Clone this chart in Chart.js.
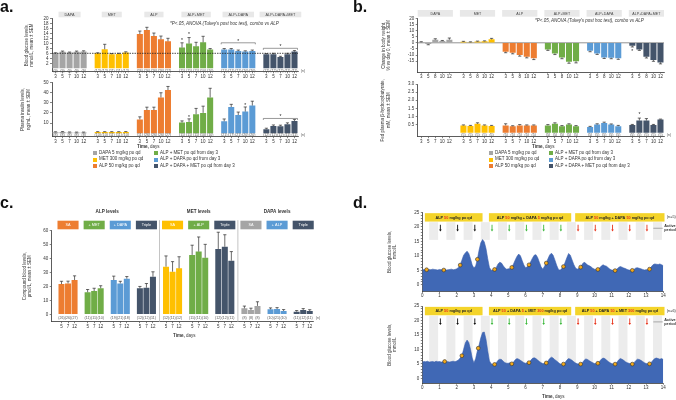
<!DOCTYPE html>
<html>
<head>
<meta charset="utf-8">
<script src="https://cdn.jsdelivr.net/npm/chart.js@4.4.1/dist/chart.umd.min.js"></script>
<style>
  body { margin: 0; width: 676px; height: 400px; position: relative; overflow: hidden; background: #fff;
         font-family: 'Liberation Sans', Arial, sans-serif; color: #333; }
  canvas { position: absolute; }
  .t { position: absolute; white-space: nowrap; line-height: 1; }
  .big { font-size: 16px; font-weight: bold; color: #111; }
  .sm { font-size: 4.5px; }
  .sw { position: absolute; width: 4px; height: 4px; }
</style>
</head>
<body>
<canvas id="a1" width="315" height="80" style="left:0px;top:0px"></canvas>
<canvas id="a2" width="315" height="68" style="left:0px;top:78px"></canvas>
<canvas id="b1" width="336" height="80" style="left:340px;top:0px"></canvas>
<canvas id="b2" width="336" height="68" style="left:340px;top:78px"></canvas>
<canvas id="c1" width="330" height="142" style="left:0px;top:198px"></canvas>
<canvas id="d1" width="336" height="95" style="left:340px;top:205px"></canvas>
<canvas id="d2" width="336" height="102" style="left:340px;top:298px"></canvas>

<div class="t big" style="left:0;top:-1px">a.</div>
<div class="t big" style="left:353px;top:-1px">b.</div>
<div class="t big" style="left:0;top:195px">c.</div>
<div class="t big" style="left:353px;top:195px">d.</div>

<div class="t sm" style="left:170px;top:22px;font-style:italic">*P&lt;.05, ANOVA (Tukey's post hoc test), combo vs ALP</div>
<div class="t sm" style="left:535px;top:19px;font-style:italic">*P&lt;.05, ANOVA (Tukey's post hoc test), combo vs ALP</div>

<div class="t sm" style="left:137px;top:144.5px"><b>Time,</b> days</div>
<div class="t sm" style="left:532px;top:145px"><b>Time,</b> days</div>
<div class="t sm" style="left:173px;top:333.5px"><b>Time,</b> days</div>
<div class="t sm" style="left:542px;top:395px"><b>Time,</b> days</div>

<div id="legA"></div>
<div id="legB"></div>

<script>
// ---- panel a / b: group names, days ----
const comboGroups = ['DAPA', 'MET', 'ALP', 'ALP+MET', 'ALP+DAPA', 'ALP+DAPA+MET'];
const comboColors = ['#a5a5a5', '#ffc000', '#ed7d31', '#70ad47', '#5b9bd5', '#44546a'];
const daysA = ['3', '5', '7', '10', '12'];
const daysWeight = ['3', '5', '8', '10', '12'];

// a: blood glucose, mmol/L
const glucose = [
  [6.0, 6.6, 6.3, 6.6, 6.7],
  [6.0, 7.6, 5.6, 5.7, 6.3],
  [13.7, 15.3, 12.9, 11.6, 10.8],
  [8.3, 9.9, 8.8, 10.4, 7.5],
  [7.5, 7.5, 6.9, 6.7, 6.9],
  [5.6, 5.6, 4.5, 5.6, 6.7]
];
const glucoseErr = [
  [0.2, 0.3, 0.2, 0.3, 0.3],
  [0.2, 2.0, 0.3, 0.3, 0.3],
  [1.2, 1.1, 1.2, 1.3, 1.2],
  [1.9, 2.4, 1.6, 2.4, 0.4],
  [0.4, 0.4, 0.4, 0.3, 0.4],
  [0.3, 0.4, 0.3, 0.4, 0.4]
];
const glucoseN = [
  ['(9)', '(9)', '(9)', '(9)', '(9)'],
  ['(12)', '(12)', '(11)', '(11)', '(12)'],
  ['(26)', '(26)', '(26)', '(26)', '(27)'],
  ['(11)', '(11)', '(11)', '(10)', '(10)'],
  ['(21)', '(21)', '(21)', '(20)', '(20)'],
  ['(12)', '(12)', '(12)', '(11)', '(11)']
];

// a: plasma insulin, ng/mL
const insulin = [
  [1.0, 1.2, 0.9, 0.8, 0.8],
  [1.2, 1.2, 1.2, 1.2, 1.3],
  [13.7, 22.9, 22.9, 35.3, 42.6],
  [10.6, 11.2, 18.8, 20.1, 35.3],
  [11.8, 25.9, 18.0, 21.4, 27.3],
  [4.0, 7.3, 7.0, 9.0, 12.2]
];
const insulinErr = [
  [0.5, 0.5, 0.4, 0.4, 0.4],
  [0.4, 0.4, 0.4, 0.4, 0.4],
  [2.5, 2.8, 2.8, 4.6, 3.5],
  [1.6, 3.0, 5.7, 6.6, 9.0],
  [2.3, 2.6, 2.9, 4.5, 4.3],
  [1.0, 0.9, 1.0, 1.3, 1.3]
];
const insulinN = [
  ['(8)', '(8)', '(8)', '(8)', '(8)'],
  ['(10)', '(10)', '(11)', '(11)', '(10)'],
  ['(11)', '(26)', '(26)', '(26)', '(27)'],
  ['(11)', '(11)', '(11)', '(10)', '(10)'],
  ['(21)', '(17)', '(21)', '(20)', '(20)'],
  ['(12)', '(12)', '(12)', '(11)', '(11)']
];

// b: change in body weight, %
const weight = [
  [0.5, -1.0, 2.5, 1.5, 2.5],
  [0.8, 0.5, 1.0, 1.2, 2.8],
  [-7.3, -8.2, -10.0, -11.4, -12.7],
  [-5.4, -8.7, -12.0, -15.5, -15.0],
  [-6.5, -8.7, -12.0, -12.2, -12.7],
  [-2.4, -5.4, -11.4, -14.1, -16.0]
];
const weightErr = [
  [0.4, 0.6, 0.8, 0.4, 1.4],
  [0.4, 0.3, 0.4, 0.4, 0.8],
  [0.8, 0.8, 0.9, 0.9, 1.0],
  [0.8, 0.9, 1.0, 1.2, 1.4],
  [0.8, 0.8, 0.8, 0.8, 0.8],
  [1.0, 0.8, 1.0, 1.0, 1.2]
];

// b: fed plasma beta-hydroxybutyrate, mM
const bhb = [
  [null, null, null, null, null],
  [0.45, 0.42, 0.55, 0.45, 0.42],
  [0.45, 0.40, 0.45, 0.45, 0.45],
  [0.45, 0.55, 0.40, 0.50, 0.40],
  [0.35, 0.50, 0.60, 0.50, 0.40],
  [0.47, 0.75, 0.75, 0.47, 0.82]
];
const bhbErr = [
  [0, 0, 0, 0, 0],
  [0.03, 0.03, 0.06, 0.03, 0.03],
  [0.10, 0.03, 0.05, 0.03, 0.03],
  [0.05, 0.06, 0.04, 0.05, 0.04],
  [0.04, 0.05, 0.05, 0.04, 0.05],
  [0.04, 0.15, 0.12, 0.04, 0.02]
];
const bhbN = [
  ['', '', '', '', ''],
  ['(5)', '(5)', '(5)', '(5)', '(5)'],
  ['(5)', '(5)', '(5)', '(5)', '(5)'],
  ['(5)', '(5)', '(5)', '(5)', '(5)'],
  ['(5)', '(5)', '(5)', '(5)', '(5)'],
  ['(5)', '(5)', '(5)', '(5)', '(5)']
];

// c: compound blood levels, umol/L
const levelGroups = ['SA', '+ MET', '+ DAPA', 'Triple', 'SA', '+ ALP', 'Triple', 'SA', '+ ALP', 'Triple'];
const levelColors = ['#ed7d31', '#70ad47', '#5b9bd5', '#44546a', '#ffc000', '#70ad47', '#44546a', '#a5a5a5', '#5b9bd5', '#44546a'];
const levelSections = ['ALP levels', 'MET levels', 'DAPA levels'];
const daysC = ['5', '7', '12'];
const levels = [
  [21.7, 22.2, 24.6], [15.8, 16.7, 18.7], [24.6, 22.2, 25.6], [18.7, 19.1, 27.0],
  [34.2, 30.6, 33.0], [42.6, 45.0, 40.6], [46.9, 48.5, 38.5],
  [4.3, 3.1, 6.0], [3.6, 3.8, 2.4], [1.9, 3.1, 2.4]
];
const levelsErr = [
  [2.0, 1.6, 3.0], [2.0, 2.0, 1.8], [2.8, 1.5, 1.5], [1.3, 3.0, 3.5],
  [7.7, 7.2, 8.3], [7.0, 10.5, 9.6], [12.0, 8.6, 6.5],
  [1.6, 1.3, 3.0], [1.0, 1.0, 1.0], [0.8, 1.0, 0.9]
];
const levelsN = [
  ['(26)', '(26)', '(27)'], ['(11)', '(11)', '(10)'], ['(19)', '(21)', '(18)'], ['(12)', '(12)', '(11)'],
  ['(12)', '(11)', '(12)'], ['(11)', '(11)', '(10)'], ['(12)', '(12)', '(11)'],
  ['(8)', '(8)', '(8)'], ['(10)', '(21)', '(10)'], ['(11)', '(12)', '(11)']
];

// d: continuous blood glucose (mmol/L), one reading every 0.1 day from day 0 to 14
const cgmTop = [
  5.3, 5.2, 5.4, 5.1, 5.3, 5.2, 5.4, 5.3, 5.2, 5.1,
  5.3, 5.2, 5.4, 5.3, 5.1, 5.2, 5.3, 5.4, 5.2, 5.3,
  5.5, 6.0, 6.8, 8.5, 10.2, 11.0, 11.6, 10.8, 9.0, 6.8,
  5.8, 6.5, 8.8, 12.0, 14.5, 15.6, 14.8, 12.5, 9.0, 6.0,
  5.0, 5.1, 5.3, 6.0, 7.2, 7.8, 7.5, 6.6, 5.8, 5.4,
  5.5, 5.6, 6.0, 7.2, 8.6, 9.8, 10.6, 10.0, 8.4, 6.8,
  5.9, 6.2, 6.9, 8.0, 9.2, 10.2, 10.4, 9.4, 7.8, 6.2,
  5.4, 6.4, 7.5, 9.0, 10.3, 10.9, 10.2, 8.6, 6.8, 5.4,
  5.0, 5.6, 6.3, 7.8, 9.4, 10.8, 10.2, 8.6, 7.0, 5.8,
  5.4, 5.7, 6.1, 7.2, 7.8, 7.4, 6.8, 6.6, 6.2, 5.7,
  5.4, 5.3, 5.3, 5.8, 6.5, 6.9, 6.6, 6.4, 5.9, 5.4,
  5.1, 5.0, 4.9, 5.4, 6.0, 6.3, 6.1, 5.8, 5.6, 5.3,
  5.1, 5.0, 5.0, 5.3, 5.8, 5.9, 5.7, 5.5, 5.3, 5.1,
  5.2, 5.3, 5.4, 6.2, 6.9, 7.2, 7.1, 7.0, 7.2, 6.9,
  6.6
];
const cgmBottom = [
  5.6, 5.8, 5.7, 5.9, 5.6, 5.7, 5.8, 5.6, 5.9, 5.7,
  5.8, 5.6, 5.7, 5.9, 5.8, 5.7, 5.6, 5.8, 5.9, 5.7,
  6.0, 6.3, 7.0, 7.8, 10.0, 12.2, 13.2, 12.4, 10.0, 7.0,
  5.3, 6.8, 9.5, 11.5, 14.0, 15.8, 16.0, 13.5, 9.5, 6.0,
  5.0, 4.8, 4.8, 5.4, 6.2, 6.6, 6.5, 5.9, 5.4, 5.2,
  5.2, 5.4, 5.0, 5.6, 6.4, 6.8, 6.6, 6.2, 5.8, 5.4,
  5.2, 5.4, 5.4, 6.2, 6.9, 7.1, 6.8, 6.3, 5.8, 5.4,
  5.1, 5.1, 5.3, 6.0, 6.8, 7.3, 7.0, 6.4, 6.0, 5.5,
  5.0, 4.8, 4.9, 5.5, 6.3, 6.8, 6.6, 6.2, 5.7, 5.3,
  5.0, 4.9, 4.9, 5.4, 6.2, 6.7, 6.5, 6.1, 5.7, 5.4,
  5.1, 5.2, 5.2, 5.9, 6.6, 7.0, 6.8, 6.3, 5.8, 5.4,
  5.1, 4.9, 4.9, 5.5, 6.3, 6.8, 6.6, 6.2, 5.7, 5.4,
  5.2, 5.0, 4.9, 5.4, 6.1, 6.6, 6.5, 6.2, 5.8, 5.4,
  5.1, 5.0, 5.0, 5.5, 6.2, 6.8, 7.0, 6.8, 6.6, 6.8,
  6.5
];
const markTopDays = [0.25, 1.25, 2.2, 3.2, 4.2, 5.2, 6.2, 7.2, 8.2, 9.2, 10.2, 11.2, 12.2, 13.2];
const markTopVals = [5.2, 5.1, 6.8, 8.8, 5.3, 6.0, 6.9, 7.5, 6.3, 6.1, 5.3, 4.9, 5.0, 5.4];
const markBotDays = [1.3, 2.3, 3.25, 4.2, 5.2, 6.2, 7.2, 8.2, 9.2, 10.2, 11.2, 12.2, 13.2];
const markBotVals = [5.8, 7.8, 10.4, 4.8, 5.0, 5.4, 5.3, 4.9, 4.9, 5.2, 4.9, 4.9, 5.0];
const doseDays = [1, 2, 3, 4, 5, 6, 7, 8, 9, 10, 11, 12, 13];
const doseColors = ['#111', '#111', '#111', '#3cb83c', '#3cb83c', '#3cb83c', '#3cb83c', '#3cb83c',
                    '#e8341c', '#e8341c', '#e8341c', '#e8341c', '#e8341c'];
const RED = '#e8341c', BLK = '#222';
const headTop = [
  [['ALP ', BLK], ['50', RED], [' mg/kg po qd', BLK]],
  [['ALP ', BLK], ['50', RED], [' mg/kg + DAPA ', BLK], ['5', RED], [' mg/kg po qd', BLK]],
  [['ALP ', BLK], ['50', RED], [' mg/kg + DAPA ', BLK], ['50', RED], [' mg/kg po qd', BLK]]
];
const headBottom = [
  [['ALP ', BLK], ['50', RED], [' mg/kg po qd', BLK]],
  [['ALP ', BLK], ['50', RED], [' + DAPA ', BLK], ['5', RED], [' + MET ', BLK], ['300', RED], [' mg/kg po qd', BLK]],
  [['ALP ', BLK], ['50', RED], [' + DAPA ', BLK], ['50', RED], [' + MET ', BLK], ['300', RED], [' mg/kg po qd', BLK]]
];

const legendLeft = ['DAPA 5 mg/kg po qd', 'MET 300 mg/kg po qd', 'ALP 50 mg/kg po qd'];
const legendRight = ['ALP + MET po qd from day 3', 'ALP + DAPA po qd from day 3', 'ALP + DAPA + MET po qd from day 3'];

const FONT = "'Liberation Sans', Arial, sans-serif";
Chart.defaults.font.family = FONT;
Chart.defaults.font.size = 4.5;
Chart.defaults.color = '#333';
Chart.defaults.animation = false;
Chart.defaults.responsive = false;
Chart.defaults.devicePixelRatio = 1;
Chart.defaults.plugins.legend.display = false;
Chart.defaults.plugins.tooltip.enabled = false;

// === grouped bar panels (a, b, c) ===
function groupChart(s) {
  const labels = [], vals = [], errs = [], cols = [], ns = [], ranges = [];
  const blank = () => { labels.push(''); vals.push(null); errs.push(0); cols.push('rgba(0,0,0,0)'); ns.push(''); };
  if (s.lead) blank();
  s.values.forEach((g, gi) => {
    if (gi > 0) blank();
    const start = labels.length;
    g.forEach((v, i) => {
      labels.push(s.days[i]); vals.push(v); errs.push(s.errors[gi][i]);
      cols.push(s.colors[gi]); ns.push(s.n ? s.n[gi][i] : '');
    });
    ranges.push([start, labels.length - 1]);
  });

  const span = (bars, gi) => {
    const [a, e] = ranges[gi];
    return [bars[a].x - bars[a].width / 2, bars[e].x + bars[e].width / 2];
  };

  const extras = {
    id: 'extras',
    beforeDatasetsDraw(chart) {
      const { ctx, chartArea: ca, scales: { y } } = chart;
      ctx.save();
      if (s.zeroLine) {
        ctx.strokeStyle = '#777'; ctx.lineWidth = 0.8;
        const y0 = y.getPixelForValue(0);
        ctx.beginPath(); ctx.moveTo(ca.left, y0); ctx.lineTo(ca.right, y0); ctx.stroke();
      }
      ctx.restore();
    },
    afterDatasetsDraw(chart) {
      const { ctx, chartArea: ca, scales: { y } } = chart;
      const bars = chart.getDatasetMeta(0).data;
      ctx.save();
      ctx.strokeStyle = '#2b2b2b'; ctx.lineWidth = 0.7;
      vals.forEach((v, i) => {
        if (v == null || !errs[i]) return;
        const b = bars[i], dir = v < 0 ? -1 : 1;
        const y0 = y.getPixelForValue(v), y1 = y.getPixelForValue(v + dir * errs[i]);
        ctx.beginPath(); ctx.moveTo(b.x, y0); ctx.lineTo(b.x, y1);
        ctx.moveTo(b.x - 1.6, y1); ctx.lineTo(b.x + 1.6, y1); ctx.stroke();
      });
      ctx.fillStyle = '#555'; ctx.font = '3.6px ' + FONT;
      ctx.textAlign = 'center'; ctx.textBaseline = 'middle';
      const ny = y.getPixelForValue(0) + (s.nOff || 2);
      ns.forEach((t, i) => { if (t) ctx.fillText(t, bars[i].x, ny); });
      if (s.nMark) ctx.fillText('(n)', ca.right + 5, ny);

      if (s.dashed != null) {
        const yd = y.getPixelForValue(s.dashed);
        ctx.strokeStyle = '#222'; ctx.lineWidth = 0.8; ctx.setLineDash([1.5, 1]);
        ctx.beginPath(); ctx.moveTo(ca.left, yd); ctx.lineTo(ca.right, yd); ctx.stroke();
        ctx.setLineDash([]);
      }
      ctx.strokeStyle = '#555'; ctx.lineWidth = 0.6; ctx.fillStyle = '#222';
      ctx.font = '5px ' + FONT;
      (s.brackets || []).forEach(bk => {
        const [x0, x1] = span(bars, bk.g), yy = y.getPixelForValue(bk.v);
        ctx.beginPath(); ctx.moveTo(x0, yy + 1.5); ctx.lineTo(x0, yy); ctx.lineTo(x1, yy); ctx.lineTo(x1, yy + 1.5); ctx.stroke();
        ctx.fillText('*', (x0 + x1) / 2, yy - 1.5);
      });
      (s.stars || []).forEach(st => {
        const b = bars[ranges[st.g][0] + st.i];
        ctx.fillText('*', b.x, y.getPixelForValue(st.v));
      });
      ctx.restore();
    },
    afterDraw(chart) {
      const { ctx, chartArea: ca, scales: { x } } = chart;
      const bars = chart.getDatasetMeta(0).data;
      ctx.save();
      ctx.textAlign = 'center'; ctx.textBaseline = 'middle';
      ctx.font = s.headFont;
      const top = ca.top - s.headOff - s.headH;
      s.heads.forEach((name, gi) => {
        const [x0, x1] = span(bars, gi), cx = (x0 + x1) / 2;
        const w = s.headStyle === 'text' ? ctx.measureText(name).width + 12 : x1 - x0 + s.headExtra;
        ctx.fillStyle = s.headStyle === 'solid' ? s.colors[gi] : '#e8e8e8';
        ctx.fillRect(cx - w / 2, top, w, s.headH);
        ctx.fillStyle = s.headStyle === 'solid' ? '#fff' : '#444';
        ctx.fillText(name, cx, top + s.headH / 2 + 0.3);
      });
      if (s.sections) {
        ctx.font = 'bold 4.6px ' + FONT; ctx.fillStyle = '#333';
        s.sections.forEach(sec => {
          const xa = span(bars, sec.from)[0], xb = span(bars, sec.to)[1];
          ctx.fillText(sec.text, (xa + xb) / 2, ca.top - 18.5);
        });
        ctx.strokeStyle = '#c4c4c4'; ctx.lineWidth = 1;
        s.dividers.forEach(g => {
          const xd = x.getPixelForValue(ranges[g][1] + 1);
          ctx.beginPath(); ctx.moveTo(xd, ca.top - 10.5); ctx.lineTo(xd, ca.bottom); ctx.stroke();
        });
      }
      ctx.restore();
    }
  };

  return new Chart(document.getElementById(s.id), {
    type: 'bar',
    data: {
      labels,
      datasets: [{ data: vals, backgroundColor: cols, barPercentage: s.bp || 0.86, categoryPercentage: 1 }]
    },
    options: {
      layout: { padding: { top: s.padTop, right: s.padRight, left: 0, bottom: 0 } },
      scales: {
        x: {
          offset: true,
          grid: { display: true, offset: false, drawOnChartArea: false, tickLength: 1.5, lineWidth: 0.6,
                  color: c => labels[c.index] === '' ? 'rgba(0,0,0,0)' : '#333' },
          border: { color: '#333', width: 0.8 },
          ticks: { autoSkip: false, maxRotation: 0, padding: 0.5, font: { size: 4.5 } },
          afterFit: sc => { sc.height = s.xH; }
        },
        y: {
          min: s.yMin, max: s.yMax,
          grid: { display: true, drawOnChartArea: false, tickLength: 2, lineWidth: 0.6, color: '#333' },
          border: { color: '#333', width: 0.8 },
          ticks: { stepSize: s.yStep, padding: 1.5, autoSkip: false, font: { size: 4.5 },
                   callback: v => s.yFmt ? Number(v).toFixed(s.yFmt) : v },
          afterBuildTicks: sc => { sc.ticks = sc.ticks.filter(t => t.value >= s.tickMin - 1e-9); },
          title: { display: true, text: s.yTitle, font: { size: 4.5 }, color: '#333',
                   padding: { top: s.titlePad, bottom: 0 } },
          afterFit: sc => { sc.width = s.yW; }
        }
      }
    },
    plugins: [extras]
  });
}

groupChart({
  id: 'a1', values: glucose, errors: glucoseErr, n: glucoseN, days: daysA, colors: comboColors,
  heads: comboGroups, headStyle: 'text', headOff: 1, headH: 5.6, headFont: '3.8px ' + FONT,
  padTop: 18.3, padRight: 17, yW: 52, xH: 8.2, yMin: -1.4, yMax: 20, yStep: 2, tickMin: 0,
  yTitle: ['Blood glucose levels,', 'mmol/L, mean ± SEM'], titlePad: 23.7, nOff: 2.3, nMark: true,
  dashed: 6,
  brackets: [{ g: 4, v: 10.2 }, { g: 5, v: 8.0 }],
  stars: [{ g: 3, i: 0, v: 11.0 }, { g: 3, i: 1, v: 13.6 }]
});

groupChart({
  id: 'a2', values: insulin, errors: insulinErr, n: insulinN, days: daysA, colors: comboColors,
  heads: [], headStyle: 'text', headOff: 0, headH: 0, headFont: '3.8px ' + FONT,
  padTop: 4.5, padRight: 17, yW: 52, xH: 9.3, yMin: -3.35, yMax: 50, yStep: 10, tickMin: 0,
  yTitle: ['Plasma insulin levels,', 'ng/mL, mean ± SEM'], titlePad: 20.5, nOff: 1.8, nMark: true,
  brackets: [{ g: 5, v: 14.6 }],
  stars: [{ g: 3, i: 1, v: 15.6 }, { g: 4, i: 3, v: 27.4 }]
});

groupChart({
  id: 'b1', values: weight, errors: weightErr, n: null, days: daysWeight, colors: comboColors,
  heads: comboGroups, headStyle: 'full', headExtra: 1, headOff: 1.6, headH: 6.7, headFont: '3.6px ' + FONT,
  padTop: 18.3, padRight: 12, yW: 77.7, xH: 7.8, yMin: -24, yMax: 20, yStep: 5, tickMin: -20,
  yTitle: ['Change in body weight,', '% vs day 0, mean ± SEM'], titlePad: 41, zeroLine: true,
  stars: [{ g: 5, i: 0, v: -7.6 }]
});

groupChart({
  id: 'b2', values: bhb, errors: bhbErr, n: bhbN, days: daysA, colors: comboColors,
  heads: [], headStyle: 'text', headOff: 0, headH: 0, headFont: '3.6px ' + FONT,
  padTop: 6, padRight: 12, yW: 77.7, xH: 9.3, yMin: -0.246, yMax: 3, yStep: 0.5, tickMin: 0, yFmt: 1,
  yTitle: ['Fed plasma β-hydroxybutyrate,', 'mM, mean ± SEM'], titlePad: 40.5, nOff: 2.2, nMark: true,
  stars: [{ g: 5, i: 1, v: 1.12 }]
});

groupChart({
  id: 'c1', values: levels, errors: levelsErr, n: levelsN, days: daysC, colors: levelColors, lead: true,
  bp: 0.92,
  heads: levelGroups, headStyle: 'solid', headExtra: 2, headOff: 1.4, headH: 8.6, headFont: '3.8px ' + FONT,
  padTop: 32.7, padRight: 17, yW: 51.7, xH: 18.3, yMin: -5.3, yMax: 60, yStep: 10, tickMin: 0,
  yTitle: ['Compound blood levels,', 'μmol/L, mean ± SEM'], titlePad: 21.7, nOff: 3.4, nMark: true,
  sections: [{ from: 0, to: 3, text: levelSections[0] }, { from: 4, to: 6, text: levelSections[1] },
             { from: 7, to: 9, text: levelSections[2] }],
  dividers: [3, 6]
});

// === panel d: continuous glucose traces ===
function glucoseChart(s) {
  const deco = {
    id: 'deco',
    beforeDatasetsDraw(chart) {
      const { ctx, scales: { x, y } } = chart;
      ctx.save();
      ctx.fillStyle = '#ececec';
      for (let d = 0; d < 14; d++) {
        const x0 = x.getPixelForValue(d + 0.4), x1 = x.getPixelForValue(d + 0.92);
        const y0 = y.getPixelForValue(21.6), y1 = y.getPixelForValue(s.bandLow);
        ctx.fillRect(x0, y0, x1 - x0, y1 - y0);
      }
      ctx.restore();
    },
    afterDatasetsDraw(chart) {
      const { ctx, chartArea: ca, scales: { x, y } } = chart;
      ctx.save();
      // dosing arrows
      doseDays.forEach((d, i) => {
        const xa = x.getPixelForValue(d + 0.05), y0 = y.getPixelForValue(20.7), y1 = y.getPixelForValue(18.4);
        ctx.strokeStyle = doseColors[i]; ctx.fillStyle = doseColors[i]; ctx.lineWidth = 0.9;
        ctx.beginPath(); ctx.moveTo(xa, y0); ctx.lineTo(xa, y1 - 1.5); ctx.stroke();
        ctx.beginPath(); ctx.moveTo(xa - 1.3, y1 - 2); ctx.lineTo(xa + 1.3, y1 - 2); ctx.lineTo(xa, y1); ctx.closePath(); ctx.fill();
      });
      // treatment boxes
      const spans = [[0.15, 3.5], [3.87, 8.65], [8.88, 14.07]];
      ctx.font = 'bold 3.8px ' + FONT; ctx.textBaseline = 'middle'; ctx.textAlign = 'left';
      s.heads.forEach((segs, i) => {
        const x0 = x.getPixelForValue(spans[i][0]), x1 = x.getPixelForValue(spans[i][1]);
        const yt = y.getPixelForValue(24.7), yb = y.getPixelForValue(21.8);
        ctx.fillStyle = '#f4d42a'; ctx.fillRect(x0, yt, x1 - x0, yb - yt);
        const tw = segs.reduce((w, sg) => w + ctx.measureText(sg[0]).width, 0);
        let cx = (x0 + x1) / 2 - tw / 2;
        segs.forEach(sg => { ctx.fillStyle = sg[1]; ctx.fillText(sg[0], cx, (yt + yb) / 2 + 0.2); cx += ctx.measureText(sg[0]).width; });
      });
      ctx.fillStyle = '#333'; ctx.font = '3.8px ' + FONT;
      ctx.fillText(s.nText, ca.right + 3.5, y.getPixelForValue(23.3));
      ctx.font = 'bold 3.8px ' + FONT;
      ctx.fillText('Active', ca.right + 1, y.getPixelForValue(20.3));
      ctx.fillText('period', ca.right + 1, y.getPixelForValue(18.8));
      const ya = y.getPixelForValue(19.5);
      ctx.strokeStyle = '#777'; ctx.lineWidth = 0.6;
      ctx.beginPath(); ctx.moveTo(ca.right - 10, ya); ctx.lineTo(ca.right - 0.5, ya); ctx.stroke();
      ctx.restore();
    }
  };

  return new Chart(document.getElementById(s.id), {
    type: 'line',
    data: {
      datasets: [
        { data: s.markDays.map((d, i) => ({ x: d, y: s.markVals[i] })), showLine: false, order: 0,
          pointRadius: 1.9, pointBackgroundColor: '#f3a91b', pointBorderColor: '#333', pointBorderWidth: 0.6 },
        { data: s.values.map((v, i) => ({ x: i / 10, y: v })), order: 1, fill: 'start',
          backgroundColor: '#4068b5', borderColor: '#3a5fae', borderWidth: 0.6, pointRadius: 0, tension: 0 }
      ]
    },
    options: {
      layout: { padding: { top: s.padTop, right: 12.7, left: 0, bottom: 0 } },
      scales: {
        x: {
          type: 'linear', min: 0, max: 14,
          grid: { display: true, drawOnChartArea: false, tickLength: 1.5, lineWidth: 0.6, color: '#333' },
          border: { color: '#333', width: 0.8 },
          ticks: { stepSize: 1, padding: 0.5, maxRotation: 0, font: { size: 4.5 } },
          afterFit: sc => { sc.height = s.xH; }
        },
        y: {
          min: s.yMin, max: 25,
          grid: { display: true, drawOnChartArea: false, tickLength: 1.5, lineWidth: 0.6, color: '#333' },
          border: { color: '#333', width: 0.8 },
          ticks: { stepSize: 1, padding: 1.5, autoSkip: false, font: { size: 4.5 },
                   callback: v => (v % 5 === 0 ? v : '') },
          afterBuildTicks: sc => { sc.ticks = sc.ticks.filter(t => t.value >= 0); },
          title: { display: true, text: ['Blood glucose levels,', 'mmol/L'], font: { size: 4.5 }, color: '#333',
                   padding: { top: 46.7, bottom: 0 } },
          afterFit: sc => { sc.width = 82.3; }
        }
      }
    },
    plugins: [deco]
  });
}

glucoseChart({ id: 'd1', values: cgmTop, markDays: markTopDays, markVals: markTopVals, heads: headTop,
  nText: '(n=5)', padTop: 7.3, xH: 8.5, yMin: -2.3, bandLow: 15.5 });
glucoseChart({ id: 'd2', values: cgmBottom, markDays: markBotDays, markVals: markBotVals, heads: headBottom,
  nText: '(n=6)', padTop: 8, xH: 16.8, yMin: -1.7, bandLow: 0 });

// === legends for a and b ===
function legend(el, xl, xr) {
  const rows = [152.7, 159.5, 166.3];
  let html = '';
  legendLeft.forEach((t, i) => {
    html += `<div class="sw" style="left:${xl}px;top:${rows[i] - 2}px;background:${comboColors[i]}"></div>` +
            `<div class="t sm" style="left:${xl + 6}px;top:${rows[i] - 2.2}px">${t}</div>`;
  });
  legendRight.forEach((t, i) => {
    html += `<div class="sw" style="left:${xr}px;top:${rows[i] - 2}px;background:${comboColors[i + 3]}"></div>` +
            `<div class="t sm" style="left:${xr + 6}px;top:${rows[i] - 2.2}px">${t}</div>`;
  });
  document.getElementById(el).innerHTML = html;
}
legend('legA', 93, 154);
legend('legB', 489, 549);
</script>
</body>
</html>
